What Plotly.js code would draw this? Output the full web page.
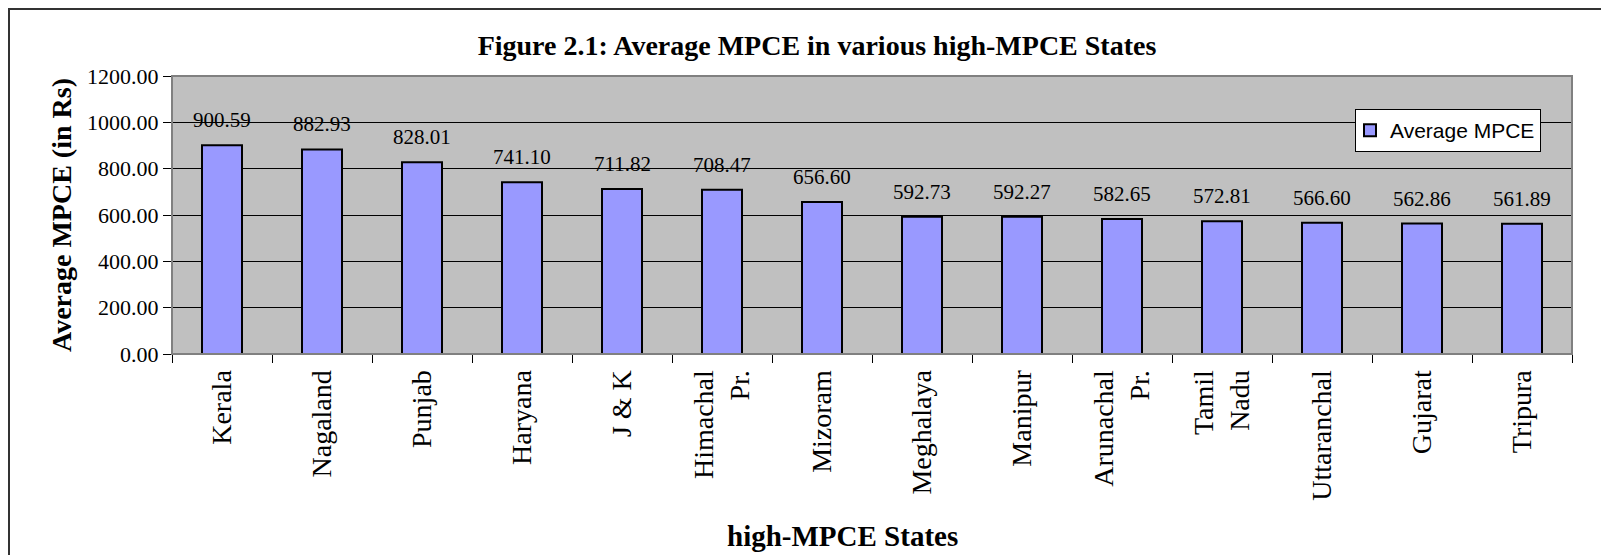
<!DOCTYPE html>
<html>
<head>
<meta charset="utf-8">
<script src="https://cdn.plot.ly/plotly-3.0.1.min.js"></script>
<style>
html,body{margin:0;padding:0;background:#fff;}
#chart{width:1601px;height:555px;}
</style>
</head>
<body>
<div id="chart"></div>
<script>
const states = ["Kerala","Nagaland","Punjab","Haryana","J & K","Himachal<br>Pr.","Mizoram","Meghalaya","Manipur","Arunachal<br>Pr.","Tamil<br>Nadu","Uttaranchal","Gujarat","Tripura"];
const avgMPCE = [900.59, 882.93, 828.01, 741.10, 711.82, 708.47, 656.60, 592.73, 592.27, 582.65, 572.81, 566.60, 562.86, 561.89];
const yTicks = [0, 200, 400, 600, 800, 1000, 1200];

const serif = "Liberation Serif, Times New Roman, serif";

const trace = {
  type: "bar",
  x: states,
  y: avgMPCE,
  name: "Average MPCE",
  width: 0.4,
  marker: {color: "#9999FF", line: {color: "#000000", width: 2}},
  hoverinfo: "none"
};

const labels = states.map((s, i) => ({
  x: s, y: avgMPCE[i], xref: "x", yref: "y",
  text: avgMPCE[i].toFixed(2),
  showarrow: false, yanchor: "middle", yshift: 25,
  font: {family: serif, size: 21, color: "#000"}
}));

const xTitle = {
  text: "<b>high-MPCE States</b>",
  xref: "paper", yref: "paper",
  x: (842 - 172) / 1400, y: (354 - 536) / 278,
  xanchor: "center", yanchor: "middle", showarrow: false,
  font: {family: serif, size: 29, color: "#000"}
};

const layout = {
  width: 1601, height: 555,
  margin: {l: 172, r: 29, t: 76, b: 201},
  paper_bgcolor: "#ffffff",
  plot_bgcolor: "#C0C0C0",
  bargap: 0.6,
  showlegend: true,
  title: {
    text: "<b>Figure 2.1: Average MPCE in various high-MPCE States</b>",
    font: {family: serif, size: 28, color: "#000"},
    x: 817 / 1601, xanchor: "center", xref: "container",
    y: 1 - 45 / 555, yanchor: "middle", yref: "container"
  },
  xaxis: {
    type: "category",
    tickangle: -90,
    ticks: "outside", ticklen: 8, tickcolor: "#000", tickwidth: 1,
    tickson: "boundaries",
    showline: true, linecolor: "#000", linewidth: 1,
    showgrid: false,
    tickfont: {family: serif, size: 28, color: "#000"},
    ticklabelstandoff: 4,
    fixedrange: true
  },
  yaxis: {
    range: [0, 1200],
    tickvals: yTicks,
    tickformat: ".2f",
    ticks: "outside", ticklen: 8, tickcolor: "#000", tickwidth: 1,
    showline: true, linecolor: "#000", linewidth: 1,
    showgrid: true, gridcolor: "#000", gridwidth: 1,
    zeroline: false,
    tickfont: {family: serif, size: 22, color: "#000"},
    title: {text: "<b>Average MPCE (in Rs)</b>", font: {family: serif, size: 28, color: "#000"}, standoff: 7},
    fixedrange: true
  },
  legend: {
    x: 0.845, y: 0.881, xanchor: "left", yanchor: "top",
    bgcolor: "#ffffff", bordercolor: "#000", borderwidth: 1,
    indentation: -6,
    font: {family: "Liberation Sans, Arial, sans-serif", size: 21, color: "#000"}
  },
  annotations: labels.concat([xTitle]),
  shapes: [
    {type: "rect", xref: "paper", yref: "paper", x0: 0, x1: 1, y0: 0, y1: 1,
     line: {color: "#808080", width: 2}, layer: "above"},
    {type: "rect", xref: "paper", yref: "paper",
     x0: (9 - 172) / 1400, x1: 1.2, y0: -1.5, y1: (354 - 9) / 278,
     line: {color: "#333333", width: 2}, fillcolor: "rgba(0,0,0,0)", layer: "below"}
  ]
};

Plotly.newPlot("chart", [trace], layout, {staticPlot: true, displayModeBar: false});
</script>
</body>
</html>
